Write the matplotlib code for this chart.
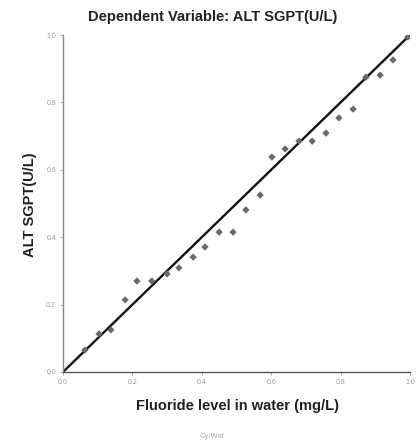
import matplotlib
matplotlib.use("Agg")
import matplotlib.pyplot as plt

obs_x = [0.063, 0.104, 0.138, 0.179, 0.213, 0.256, 0.300, 0.334, 0.375, 0.409,
         0.450, 0.490, 0.527, 0.568, 0.602, 0.640, 0.680, 0.718, 0.758, 0.795,
         0.836, 0.873, 0.914, 0.951, 0.994]
exp_y = [0.065, 0.113, 0.125, 0.214, 0.270, 0.270, 0.291, 0.309, 0.341, 0.371,
         0.415, 0.415, 0.481, 0.525, 0.638, 0.662, 0.685, 0.685, 0.709, 0.754,
         0.780, 0.875, 0.881, 0.926, 0.994]
ref_line = [0.0, 1.0]
ticks = [0.0, 0.2, 0.4, 0.6, 0.8, 1.0]
tick_labels = ["0.0", "0.2", "0.4", "0.6", "0.8", "1.0"]

plt.rcParams['font.family'] = ['Liberation Sans', 'DejaVu Sans']

fig = plt.figure(figsize=(4.17, 4.46), dpi=100)
ax = fig.add_axes([63/417, 1-372/446, (410-63)/417, (372-35)/446])

ax.plot(ref_line, ref_line, color="#111111", lw=1.7, zorder=2)
ax.scatter(obs_x, exp_y, s=14, marker="D", color="#6a6a6a", edgecolors="none", zorder=3)

ax.set_xlim(0, 1)
ax.set_ylim(0, 1)
ax.set_xticks(ticks)
ax.set_xticklabels(tick_labels)
ax.set_yticks(ticks)
ax.set_yticklabels(tick_labels)
ax.tick_params(axis='both', labelsize=5, colors="#9a9a9a", length=2, width=0.6, pad=3)

for s in ["top", "right"]:
    ax.spines[s].set_visible(False)
ax.spines["left"].set_color("#8a8a8a")
ax.spines["bottom"].set_color("#555555")
ax.spines["left"].set_linewidth(1.0)
ax.spines["bottom"].set_linewidth(1.0)

fig.text(213/417, 1-17/446, "Dependent Variable: ALT SGPT(U/L)", ha="center", va="center",
         fontsize=10.5, fontweight="bold", color="#222222")
fig.text(238/417, 1-406/446, "Fluoride level in water (mg/L)", ha="center", va="center",
         fontsize=10.5, fontweight="bold", color="#222222")
fig.text(30/417, 1-205/446, "ALT SGPT(U/L)", ha="center", va="center", rotation=90,
         fontsize=10.5, fontweight="bold", color="#222222")
fig.text(212/417, 1-437/446, "Cy/Wat", ha="center", va="center",
         fontsize=5.5, color="#aaaaaa")

fig.savefig("out.png", dpi=100)
